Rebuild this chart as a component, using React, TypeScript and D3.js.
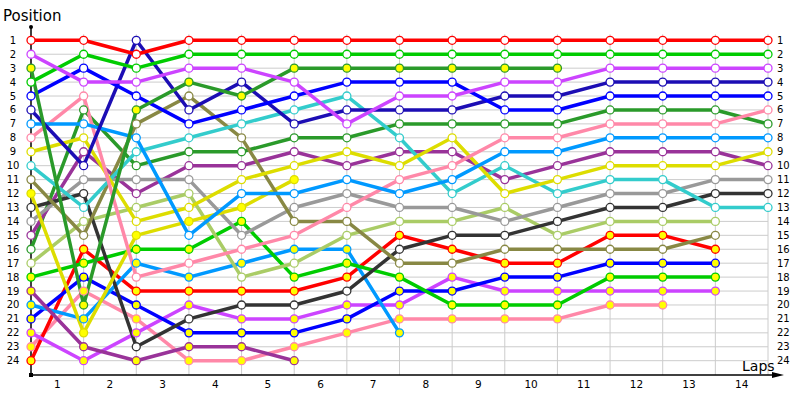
import React from "react";
import * as d3 from "d3";

// ---- data ----
const lapNumbers = [0, 1, 2, 3, 4, 5, 6, 7, 8, 9, 10, 11, 12, 13, 14];
const lapLabels = ["1", "2", "3", "4", "5", "6", "7", "8", "9", "10", "11", "12", "13", "14"];
const positionLabels = [1, 2, 3, 4, 5, 6, 7, 8, 9, 10, 11, 12, 13, 14, 15, 16, 17, 18, 19, 20, 21, 22, 23, 24];

// positions per lap (lap 0 = start grid); shorter arrays = retired
const redW = [1, 1, 2, 1, 1, 1, 1, 1, 1, 1, 1, 1, 1, 1, 1];
const magentaW = [2, 4, 4, 3, 3, 4, 7, 5, 5, 4, 4, 3, 3, 3, 3];
const darkGreenY = [3, 20, 6, 4, 5, 3, 3, 3, 3, 3, 3];
const greenW = [4, 2, 3, 2, 2, 2, 2, 2, 2, 2, 2, 2, 2, 2, 2];
const blueW = [5, 3, 5, 7, 6, 5, 4, 4, 4, 6, 6, 5, 5, 5, 5];
const darkBlueW = [6, 10, 1, 6, 4, 7, 6, 6, 6, 5, 5, 4, 4, 4, 4];
const skyBlueW = [7, 7, 8, 15, 12, 12, 11, 12, 11, 9, 9, 8, 8, 8, 8];
const pinkW = [8, 5, 18, 17, 16, 15, 13, 11, 10, 8, 8, 7, 7, 7, 6];
const yellowW = [9, 8, 14, 13, 11, 10, 9, 10, 8, 12, 11, 10, 10, 10, 9];
const cyanW = [10, 13, 9, 8, 7, 6, 5, 8, 12, 10, 12, 11, 11, 13, 13];
const oliveW = [11, 15, 7, 5, 8, 14, 14, 17, 17, 16, 16, 16, 16, 15];
const yellowY = [12, 22, 15, 14, 13, 11];
const blackW = [13, 12, 23, 21, 20, 20, 19, 16, 15, 15, 14, 13, 13, 12, 12];
const grayW = [14, 11, 11, 11, 15, 13, 12, 13, 13, 14, 13, 12, 12, 11, 11];
const purpleW = [15, 9, 12, 10, 10, 9, 10, 9, 9, 11, 10, 9, 9, 9, 10];
const darkGreenW = [16, 6, 10, 9, 9, 8, 8, 7, 7, 7, 7, 6, 6, 6, 7];
const lightGreenW = [17, 14, 13, 12, 18, 17, 15, 14, 14, 13, 15, 14, 14, 14];
const greenY = [18, 17, 16, 16, 14, 18, 17, 18, 20, 20, 20, 18, 18, 18];
const purpleY = [19, 23, 24, 23, 23, 24];
const skyBlueY = [20, 21, 17, 18, 17, 16, 16, 22];
const blueY = [21, 18, 20, 22, 22, 22, 21, 19, 19, 18, 18, 17, 17, 17];
const magentaY = [22, 24, 22, 20, 21, 21, 20, 20, 18, 19, 19, 19, 19, 19];
const pinkY = [23, 19, 21, 24, 24, 23, 22, 21, 21, 21, 21, 20, 20];
const redY = [24, 16, 19, 19, 19, 19, 18, 15, 16, 17, 17, 15, 15, 16];

const C = {
  red: "#ff0000",
  green: "#00cc00",
  magenta: "#cc44ff",
  darkBlue: "#1c0db4",
  blue: "#0000ff",
  darkGreen: "#2a9a2a",
  pink: "#ff88a8",
  skyBlue: "#0099ff",
  purple: "#993399",
  yellow: "#dddd00",
  cyan: "#33cccc",
  olive: "#888844",
  black: "#333333",
  gray: "#999999",
  lightGreen: "#aacc66",
};

const series = [
  { data: pinkY, color: C.pink, filled: true },
  { data: redY, color: C.red, filled: true },
  { data: magentaY, color: C.magenta, filled: true },
  { data: blueY, color: C.blue, filled: true },
  { data: skyBlueY, color: C.skyBlue, filled: true },
  { data: purpleY, color: C.purple, filled: true },
  { data: greenY, color: C.green, filled: true },
  { data: lightGreenW, color: C.lightGreen, filled: false },
  { data: darkGreenW, color: C.darkGreen, filled: false },
  { data: purpleW, color: C.purple, filled: false },
  { data: grayW, color: C.gray, filled: false },
  { data: blackW, color: C.black, filled: false },
  { data: yellowY, color: C.yellow, filled: true },
  { data: oliveW, color: C.olive, filled: false },
  { data: cyanW, color: C.cyan, filled: false },
  { data: yellowW, color: C.yellow, filled: false },
  { data: pinkW, color: C.pink, filled: false },
  { data: skyBlueW, color: C.skyBlue, filled: false },
  { data: darkBlueW, color: C.darkBlue, filled: false },
  { data: blueW, color: C.blue, filled: false },
  { data: greenW, color: C.green, filled: false },
  { data: darkGreenY, color: C.darkGreen, filled: true },
  { data: magentaW, color: C.magenta, filled: false },
  { data: redW, color: C.red, filled: false },
];

export default function App() {
  const W = 800;
  const H = 400;
  const x = d3.scaleLinear().domain([0, 14]).range([31, 768]);
  const y = d3.scaleLinear().domain([1, 24]).range([40.3, 360.7]);
  const axisY = 375;
  const line = d3
    .line<number>()
    .x((_, i) => x(lapNumbers[i]))
    .y((d) => y(d));
  const font = "Tahoma, 'DejaVu Sans', Verdana, sans-serif";

  return (
    <svg
      width={W}
      height={H}
      style={{ position: "absolute", left: 0, top: 0, background: "#fff" }}
      fontFamily={font}
    >
      <rect x={0} y={0} width={W} height={H} fill="#fff" />
      {/* grid */}
      {positionLabels.map((p) => (
        <line key={"h" + p} x1={x(0)} x2={x(14)} y1={y(p)} y2={y(p)} stroke="#cccccc" strokeWidth={1} />
      ))}
      {lapNumbers.slice(1).map((l) => (
        <line key={"v" + l} x1={x(l)} x2={x(l)} y1={y(1) - 6} y2={axisY} stroke="#cccccc" strokeWidth={1} />
      ))}
      {/* axes */}
      <line x1={x(0)} x2={x(0)} y1={27} y2={axisY} stroke="#000" strokeWidth={1.5} />
      <circle cx={x(0)} cy={27} r={2} fill="#000" />
      <line x1={x(0)} x2={776} y1={axisY} y2={axisY} stroke="#000" strokeWidth={1.5} />
      <path d={`M${784},${axisY} L${772},${axisY - 3} L${772},${axisY + 3} Z`} fill="#000" />
      <rect x={x(0) - 2} y={axisY - 2} width={4} height={4} fill="#000" />
      {/* labels */}
      <text x={3} y={21} fontSize={15} fill="#000">Position</text>
      <text x={742} y={371} fontSize={14} fill="#000">Laps</text>
      {positionLabels.map((p) => (
        <text key={"l" + p} x={13} y={y(p)} dy="0.35em" fontSize={10} textAnchor="middle" fill="#000">
          {p}
        </text>
      ))}
      {positionLabels.map((p) => (
        <text key={"r" + p} x={777} y={y(p)} dy="0.35em" fontSize={10} textAnchor="start" fill="#000">
          {p}
        </text>
      ))}
      {lapLabels.map((t, i) => (
        <text key={"t" + i} x={(x(i) + x(i + 1)) / 2} y={388} fontSize={10.5} textAnchor="middle" fill="#000">
          {t}
        </text>
      ))}
      {/* series lines */}
      {series.map((s, si) => (
        <path key={"p" + si} d={line(s.data) || ""} fill="none" stroke={s.color} strokeWidth={3.5} strokeLinejoin="round" />
      ))}
      {/* markers */}
      {series.map((s, si) => (
        <g key={"m" + si}>
          {s.data.map((d, i) => (
            <circle
              key={i}
              cx={x(lapNumbers[i])}
              cy={y(d)}
              r={4}
              fill={s.filled ? "#ffff00" : "#ffffff"}
              stroke={s.color}
              strokeWidth={1.3}
            />
          ))}
        </g>
      ))}
    </svg>
  );
}
